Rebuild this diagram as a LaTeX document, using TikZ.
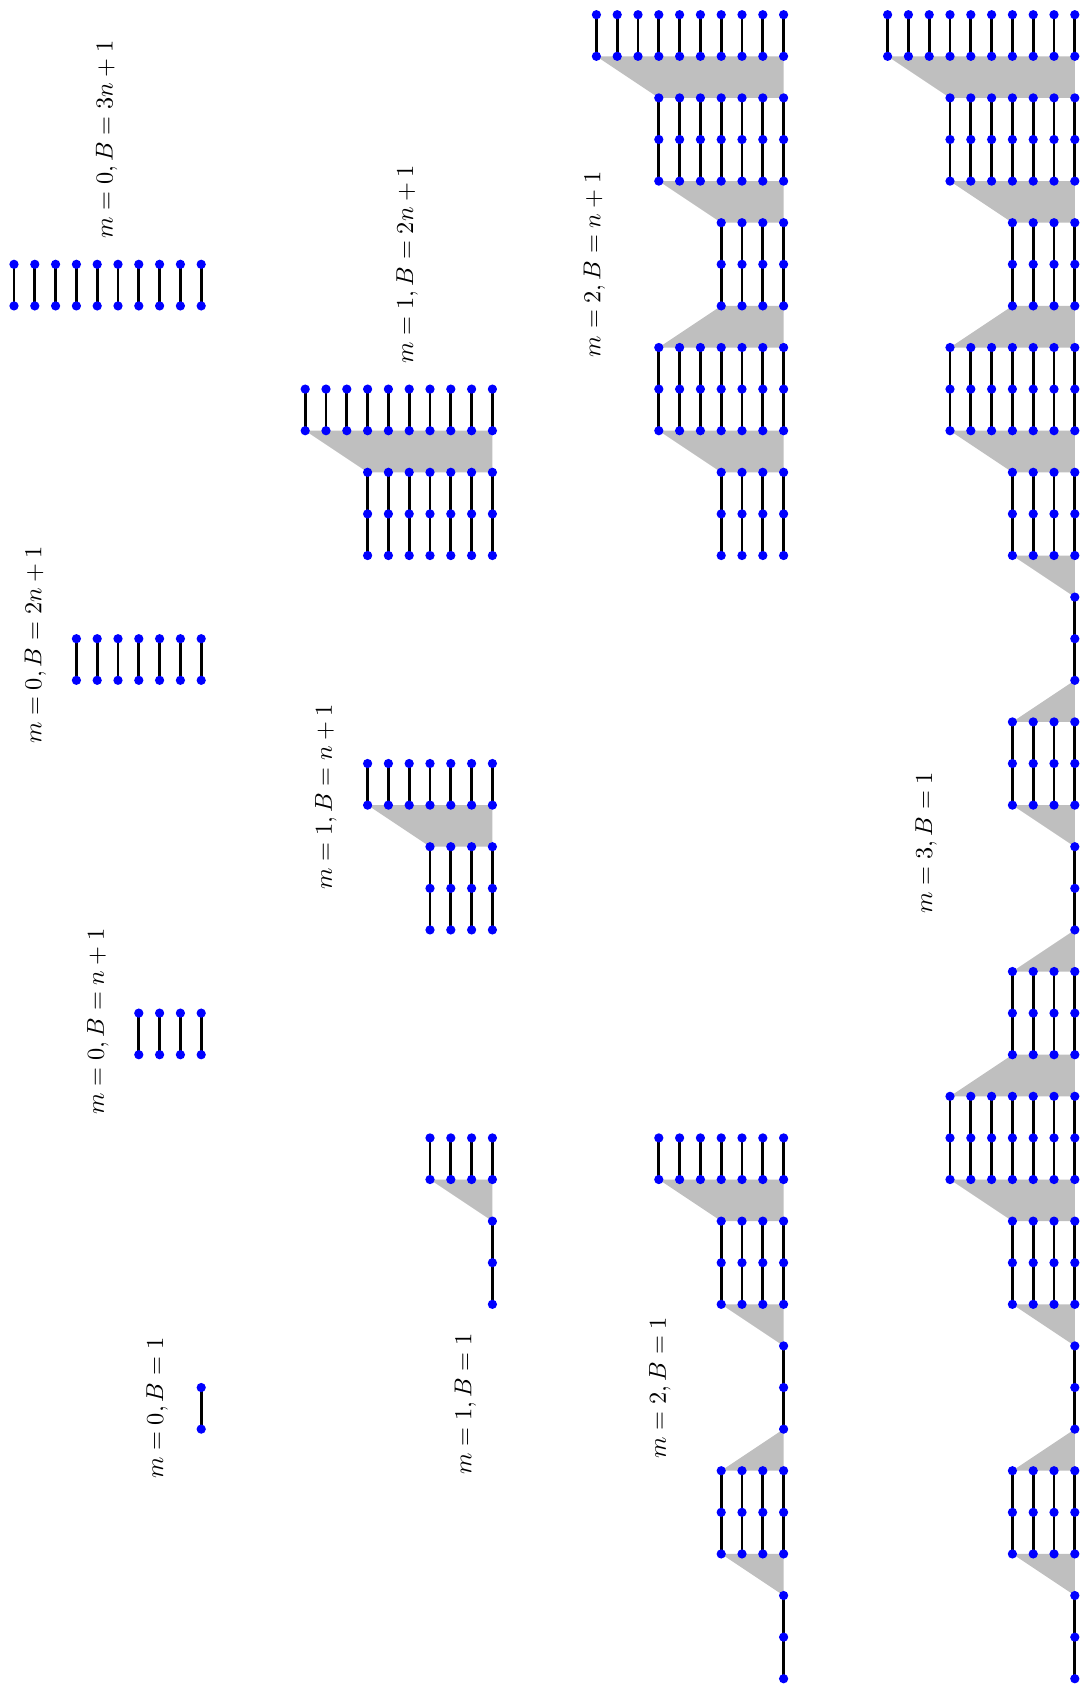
\documentclass[tikz,border=0pt]{standalone}
\usepackage{amsmath,amssymb}
\usepackage{xcolor}
\usepackage{tikz}
\usetikzlibrary{positioning}

\pgfdeclarelayer{shade}
\pgfdeclarelayer{lines}
\pgfsetlayers{shade,lines,main}

% \strip{name}{right column}{width/first row/last row, ...}
\newcommand{\strip}[3]{%
  \gdef\prevw{0}\gdef\prevr{0}%
  \foreach \w/\ra/\rb in {#3}{%
    \pgfmathtruncatemacro{\rc}{\rb-1}%
    \foreach \k in {1,...,\w}{%
      \pgfmathtruncatemacro{\cx}{#2+1-\k}%
      \foreach \r in {\ra,...,\rb}{\node[site] (#1-\cx-\r) at (\cx,-2*\r) {};}%
      \begin{pgfonlayer}{lines}
        \foreach \r [evaluate=\r as \s using int(\r+1)] in {\ra,...,\rc}{\draw[bond] (#1-\cx-\r.center) -- (#1-\cx-\s.center);}%
      \end{pgfonlayer}
    }%
    \ifnum\prevw>0
      \pgfmathtruncatemacro{\pa}{#2+1-\prevw}%
      \pgfmathtruncatemacro{\pb}{#2+1-\w}%
      \begin{pgfonlayer}{shade}
        \fill[glue] (#1-\pa-\prevr.center) -- (#1-#2-\prevr.center) -- (#1-#2-\ra.center) -- (#1-\pb-\ra.center) -- cycle;
      \end{pgfonlayer}
    \fi
    \xdef\prevw{\w}\xdef\prevr{\rb}%
  }%
}

\begin{document}
\begin{tikzpicture}[
    x=0.3cm, y=0.3cm,
    site/.style={circle, fill=blue, inner sep=0pt, minimum size=3.8pt},
    bond/.style={line width=1.1pt},
    glue/.style={fill=gray!50},
    tag/.style={rotate=90}
]
\useasboundingbox (-0.673,0.707) rectangle (51.3,-80.35);

% m = 0
\strip{zeroA}{9}{10/6/7}
\strip{zeroB}{9}{7/15/16}
\strip{zeroC}{9}{4/24/25}
\strip{zeroD}{9}{1/33/34}

% m = 1
\strip{oneA}{23}{10/9/10, 7/11/13}
\strip{oneB}{23}{7/18/19, 4/20/22}
\strip{oneC}{23}{4/27/28, 1/29/31}

% m = 2
\strip{twoA}{37}{10/0/1, 7/2/4, 4/5/7, 7/8/10, 4/11/13}
\strip{twoB}{37}{7/27/28, 4/29/31, 1/32/34, 4/35/37, 1/38/40}

% m = 3
\strip{three}{51}{10/0/1, 7/2/4, 4/5/7, 7/8/10, 4/11/13, 1/14/16, 4/17/19,
  1/20/22, 4/23/25, 7/26/28, 4/29/31, 1/32/34, 4/35/37, 1/38/40}

\node[tag] (labzeroA) at (4.45,-6) {$m=0, B=3n+1$};
\node[tag] (labzeroB) at (1.03,-30.3) {$m=0, B=2n+1$};
\node[tag] (labzeroC) at (4.03,-48.4) {$m=0, B=n+1$};
\node[tag] (labzeroD) at (6.88,-67) {$m=0, B=1$};
\node[tag] (laboneA) at (18.9,-12) {$m=1, B=2n+1$};
\node[tag] (laboneB) at (15,-37.6) {$m=1, B=n+1$};
\node[tag] (laboneC) at (21.7,-66.8) {$m=1, B=1$};
\node[tag] (labtwoA) at (27.9,-12) {$m=2, B=n+1$};
\node[tag] (labtwoB) at (31.05,-66) {$m=2, B=1$};
\node[tag] (labthree) at (43.85,-39.8) {$m=3, B=1$};
\end{tikzpicture}
\end{document}
